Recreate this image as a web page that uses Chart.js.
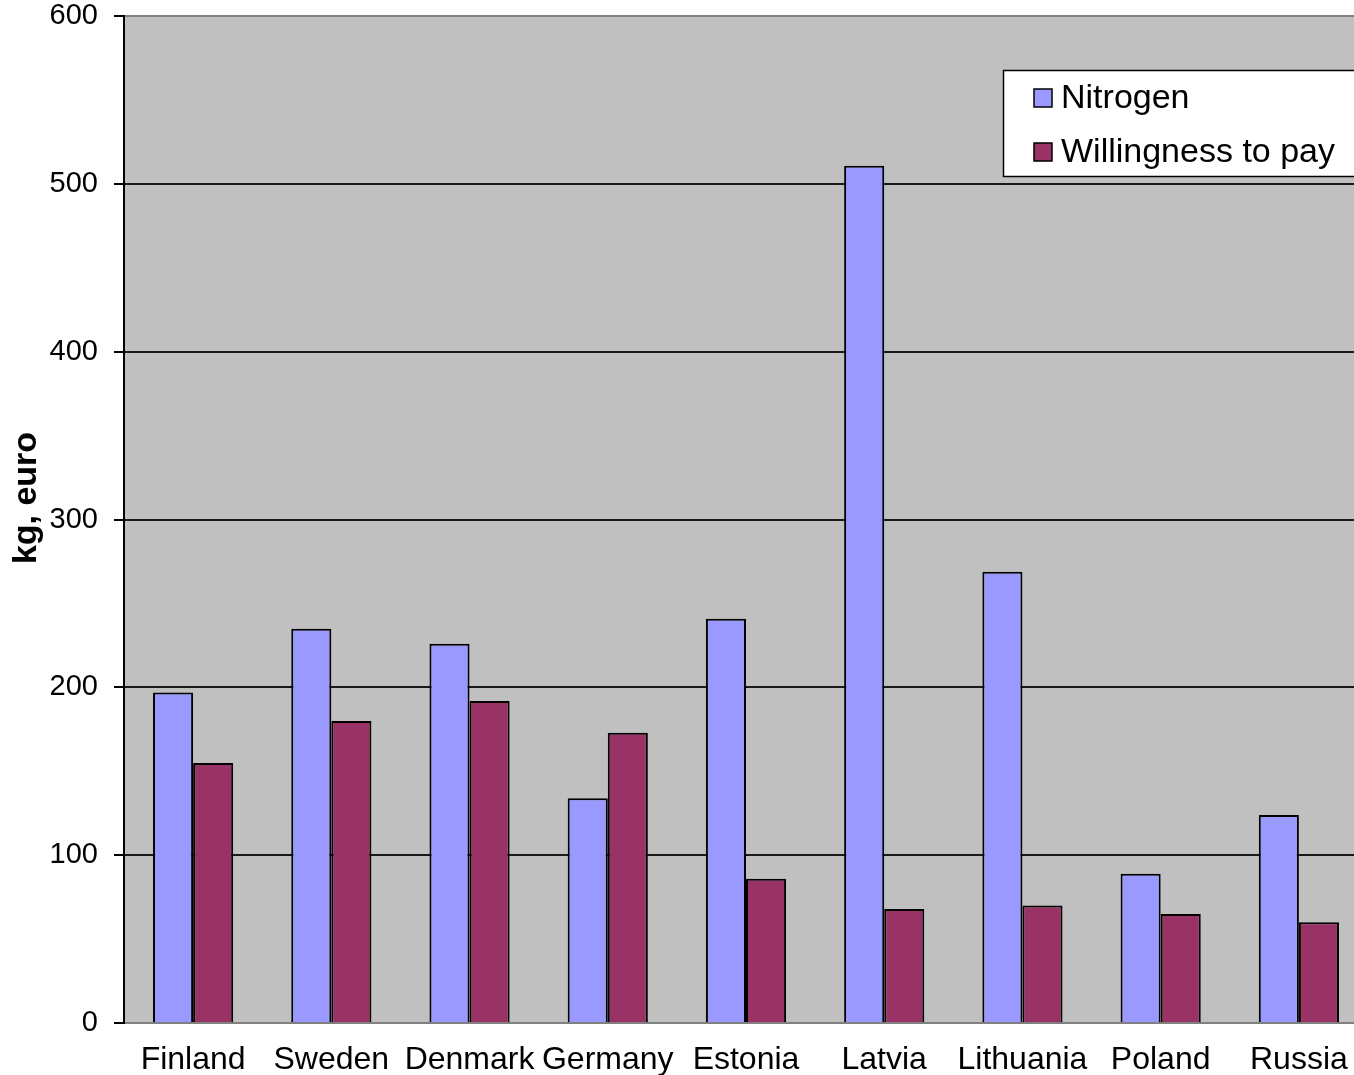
<!DOCTYPE html>
<html>
<head>
<meta charset="utf-8">
<script src="https://cdn.jsdelivr.net/npm/chart.js@4/dist/chart.umd.min.js"></script>
<style>
    html, body { margin: 0; padding: 0; background: #fff; overflow: hidden; }
    #wrap { width: 1368px; height: 1092px; margin-top: -17px; }
</style>
</head>
<body>
<div id="wrap"><canvas id="chart"></canvas></div>
<script>
const countries = ['Finland', 'Sweden', 'Denmark', 'Germany', 'Estonia', 'Latvia', 'Lithuania', 'Poland', 'Russia'];
const nitrogen = [197, 235, 226, 134, 241, 511, 269, 89, 124];
const willingness = [155, 180, 192, 173, 86, 68, 70, 65, 60];
const seriesNames = ['Nitrogen', 'Willingness to pay'];
const seriesColors = ['#9999FF', '#993366'];
const yTitle = 'kg, euro';

const FONT = '"Liberation Sans", Arial, sans-serif';
const SHIFT = 17; // el lienzo empieza 17px por encima de la ventana

// gris de fondo del área de trazado
const plotBackground = {
    id: 'plotBackground',
    beforeDraw(chart) {
        const { ctx, chartArea: a } = chart;
        ctx.save();
        ctx.fillStyle = '#C0C0C0';
        ctx.fillRect(a.left, a.top, a.right - a.left, a.bottom - a.top);
        ctx.restore();
    }
};

// título del eje Y, un poco por encima del centro
const axisTitle = {
    id: 'axisTitle',
    afterDraw(chart) {
        const { ctx } = chart;
        ctx.save();
        ctx.translate(27, 498 + SHIFT);
        ctx.rotate(-Math.PI / 2);
        ctx.font = 'bold 34px ' + FONT;
        ctx.fillStyle = '#000';
        ctx.textAlign = 'center';
        ctx.textBaseline = 'middle';
        ctx.fillText(yTitle, 0, 0);
        ctx.restore();
    }
};

// leyenda dentro del área, arriba a la derecha
const boxLegend = {
    id: 'boxLegend',
    afterDraw(chart) {
        const { ctx } = chart;
        const x = 1003, y = 70 + SHIFT, w = 400, h = 106;
        ctx.save();
        ctx.fillStyle = '#fff';
        ctx.fillRect(x, y, w, h);
        ctx.strokeStyle = '#000';
        ctx.lineWidth = 1.5;
        ctx.strokeRect(x + 0.5, y + 0.5, w, h);
        ctx.font = '34px ' + FONT;
        ctx.textBaseline = 'middle';
        chart.data.datasets.forEach((ds, i) => {
            const cy = y + 28 + i * 54;
            ctx.fillStyle = ds.backgroundColor;
            ctx.fillRect(x + 31, cy - 9, 18, 18);
            ctx.strokeStyle = '#000';
            ctx.lineWidth = 1.5;
            ctx.strokeRect(x + 31, cy - 9, 18, 18);
            ctx.fillStyle = '#000';
            ctx.fillText(ds.label, x + 58, cy + 1);
        });
        ctx.restore();
    }
};

new Chart(document.getElementById('chart').getContext('2d'), {
    type: 'bar',
    data: {
        labels: countries,
        datasets: [
            {
                label: seriesNames[0],
                data: nitrogen,
                backgroundColor: seriesColors[0],
                borderColor: '#000',
                borderWidth: 2
            },
            {
                label: seriesNames[1],
                data: willingness,
                backgroundColor: seriesColors[1],
                borderColor: '#000',
                borderWidth: 2
            }
        ]
    },
    options: {
        responsive: true,
        maintainAspectRatio: false,
        animation: false,
        categoryPercentage: 0.58,
        barPercentage: 1.0,
        layout: { padding: 0 },
        plugins: {
            legend: { display: false },
            tooltip: { enabled: false }
        },
        scales: {
            x: {
                grid: { display: false, drawTicks: false },
                border: { display: true, color: '#808080', width: 2 },
                ticks: {
                    autoSkip: false,
                    maxRotation: 0,
                    padding: 18,
                    color: '#000',
                    font: { family: FONT, size: 32 }
                },
                afterFit(scale) { scale.height = 52; }
            },
            y: {
                min: 0,
                max: 600,
                ticks: {
                    stepSize: 100,
                    padding: 16,
                    color: '#000',
                    font: { family: FONT, size: 29 }
                },
                grid: {
                    color: (c) => (c.tick && (c.tick.value === 0 || c.tick.value === 600)) ? '#808080' : '#1a1a1a',
                    lineWidth: 2,
                    tickLength: 10,
                    tickColor: '#000',
                    tickWidth: 2
                },
                border: { color: '#000', width: 2 },
                afterFit(scale) { scale.width = 124; }
            }
        }
    },
    plugins: [plotBackground, axisTitle, boxLegend]
});
</script>
</body>
</html>
